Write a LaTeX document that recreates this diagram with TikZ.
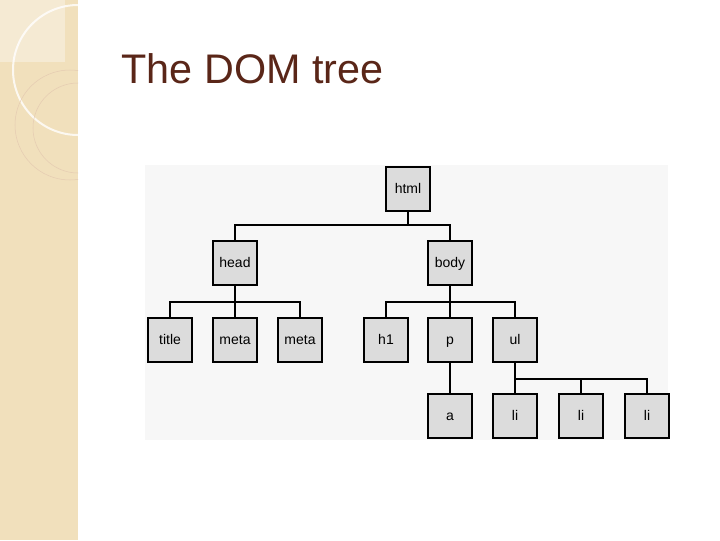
\documentclass[tikz,border=0pt]{standalone}
\usepackage{fontspec}
\setmainfont{Liberation Sans}
\usetikzlibrary{positioning,calc}
\definecolor{strip}{HTML}{F1E0BC}
\definecolor{titlebrown}{HTML}{5A2618}
\definecolor{boxgray}{HTML}{DCDCDC}
\tikzset{
  elem/.style={draw, line width=1.6pt, fill=boxgray, minimum size=33pt, inner sep=0pt, text height=7pt, text depth=1pt, font=\fontsize{10.5}{12}\selectfont},
  link/.style={line width=1.6pt}
}
\begin{document}
\begin{tikzpicture}[x=0.75pt,y=-0.75pt]
    % slide background
    \useasboundingbox (0,0) rectangle (720,540);
    \fill[white] (0,0) rectangle (720,540);
    \begin{scope}
        \clip (0,0) rectangle (78,540);
        \fill[strip] (0,0) rectangle (78,540);
        \fill[white, opacity=0.35] (0,0) rectangle (65,62);
        \draw[white, line width=1.5pt, opacity=0.8] (78,70) circle (65);
        \draw[brown!40, line width=0.4pt] (70,125) circle (55);
        \draw[brown!40, line width=0.4pt] (78,128) circle (45);
    \end{scope}
    \node[anchor=base west, text=titlebrown, font=\fontsize{31}{34}\selectfont] (ttl) at (117,83) {The DOM tree};
    \fill[black!3] (145,165) rectangle (668,440);

    % tree
    \node[elem] (html) at (408,189) {html};
    \node[elem] (head) at (235,263) {head};
    \node[elem] (body) at (450,263) {body};
    \foreach \n/\x/\t in {title/170/title, metaa/235/meta, metab/300/meta, hone/386/h1, p/450/p, ul/515/ul} {
        \node[elem] (\n) at (\x,340) {\t};
    }
    \node[elem] (a) at (450,416) {a};
    \foreach \n/\x in {lia/515, lib/581, lic/647} {
        \node[elem] (\n) at (\x,416) {li};
    }

    % connectors
    \coordinate (jhtml) at ($(html.south)+(0,13)$);
    \draw[link] (html.south) -- (jhtml);
    \draw[link] (head.north) |- (jhtml) -| (body.north);
    \coordinate (jhead) at ($(head.south)+(0,16)$);
    \draw[link] (head.south) -- (metaa.north);
    \draw[link,line width=1.1pt] (title.north) |- (jhead) -| (metab.north);
    \coordinate (jbody) at ($(body.south)+(0,16)$);
    \draw[link] (body.south) -- (p.north);
    \draw[link,line width=1.1pt] (hone.north) |- (jbody) -| (ul.north);
    \draw[link] (p.south) -- (a.north);
    \coordinate (jul) at ($(ul.south)+(0,16)$);
    \draw[link] (ul.south) -- (lia.north);
    \draw[link,line width=1.1pt] (lia.north) |- (jul) -| (lic.north);
    \draw[link,line width=1.1pt] (jul) -| (lib.north);
\end{tikzpicture}
\end{document}
